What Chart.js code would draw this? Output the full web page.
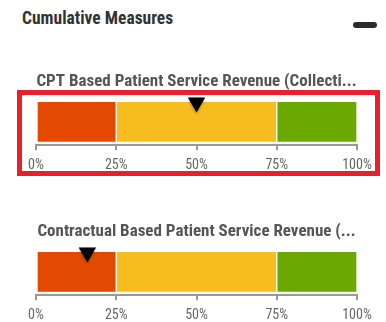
<!DOCTYPE html>
<html>
<head>
<meta charset="utf-8">
<script src="https://cdn.jsdelivr.net/npm/chart.js@4"></script>
<style>
  body { margin: 0; width: 386px; height: 322px; overflow: hidden; background: #fff; position: relative; }
  .title { position: absolute; left: 22px; top: 8px; font: bold 17.5px "Roboto Condensed", Roboto, sans-serif; color: #333; }
  .minus { position: absolute; left: 353px; top: 22px; width: 24px; height: 6px; border-radius: 3px; background: #2b2b2b; }
  .highlight { position: absolute; left: 17px; top: 90px; width: 363px; height: 86px; box-sizing: border-box; border: 5px solid #e8202b; }
  .gauge { position: absolute; left: 0; width: 386px; height: 122px; }
</style>
</head>
<body>
<div class="title">Cumulative Measures</div>
<div class="minus"></div>
<div class="highlight"></div>
<div class="gauge" style="top:63px"><canvas id="g0"></canvas></div>
<div class="gauge" style="top:213px"><canvas id="g1"></canvas></div>
<script>
const measures = ['CPT Based Patient Service Revenue (Collecti...', 'Contractual Based Patient Service Revenue (...'];
const bandNames = ['Low', 'Medium', 'High'];
const bandSizes = [25, 50, 25];
const bandColors = ['#e34a00', '#f7bc1e', '#6aaa00'];
const markerValues = [50, 16];
const tickValues = [0, 25, 50, 75, 100];

const FONT = '"Roboto Condensed", Roboto, sans-serif';

// downward triangle sitting on the top edge of the bar, at the actual value
const markerPlugin = {
  id: 'marker',
  afterDatasetsDraw(chart, args, opts) {
    const { ctx, chartArea } = chart;
    const x = chart.scales.x.getPixelForValue(opts.value);
    const r = 10;
    const cy = chartArea.top + 4;
    ctx.save();
    ctx.shadowColor = 'rgba(0,0,0,0.35)';
    ctx.shadowBlur = 3;
    ctx.shadowOffsetY = 1;
    ctx.fillStyle = '#000';
    ctx.beginPath();
    ctx.moveTo(x - r * 0.866, cy - r / 2);
    ctx.lineTo(x + r * 0.866, cy - r / 2);
    ctx.lineTo(x, cy + r);
    ctx.closePath();
    ctx.fill();
    ctx.restore();
  }
};

measures.forEach((name, i) => {
  const datasets = bandSizes.map((size, b) => ({
    label: bandNames[b],
    data: [size],
    backgroundColor: bandColors[b],
    borderColor: 'rgba(255,255,255,0.25)',
    borderWidth: 1,
    borderSkipped: false,
    barThickness: 41
  }));

  new Chart(document.getElementById('g' + i), {
    type: 'bar',
    data: { labels: [name], datasets },
    plugins: [markerPlugin],
    options: {
      indexAxis: 'y',
      responsive: true,
      maintainAspectRatio: false,
      animation: false,
      events: [],
      layout: { padding: { left: 36, right: 29, top: 0, bottom: 4 } },
      plugins: {
        legend: { display: false },
        tooltip: { enabled: false },
        marker: { value: markerValues[i] },
        title: {
          display: true,
          text: name,
          color: '#555',
          font: { family: FONT, size: 17, weight: 'bold' },
          padding: { top: 9, bottom: 6 }
        }
      },
      scales: {
        x: {
          stacked: true,
          min: 0,
          max: 100,
          afterBuildTicks: axis => { axis.ticks = tickValues.map(v => ({ value: v })); },
          ticks: {
            callback: v => v + '%',
            color: '#666',
            padding: 7,
            maxRotation: 0,
            font: { family: FONT, size: 14 }
          },
          grid: { drawOnChartArea: false, drawTicks: true, tickLength: 5, color: '#999', lineWidth: 2 },
          border: { display: true, color: '#999', width: 2 }
        },
        y: { stacked: true, display: false }
      }
    }
  });
});
</script>
</body>
</html>
